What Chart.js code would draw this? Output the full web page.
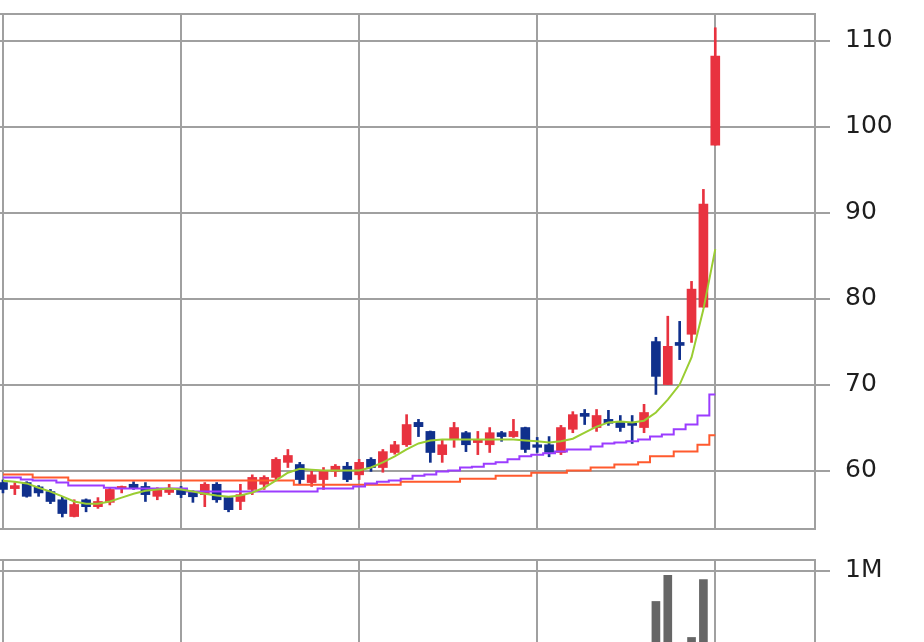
<!DOCTYPE html>
<html>
<head>
<meta charset="utf-8">
<script src="https://cdn.jsdelivr.net/npm/chart.js@4/dist/chart.umd.min.js"></script>
<style>
  html, body { margin: 0; padding: 0; background: #fff; overflow: hidden; }
  #wrap { position: relative; width: 924px; height: 642px; overflow: hidden; }
  #priceChart { position: absolute; left: 0; top: 0; }
  #volumeChart { position: absolute; left: 0; top: 545px; }
</style>
</head>
<body>
<div id="wrap">
  <canvas id="priceChart" width="924" height="531"></canvas>
  <canvas id="volumeChart" width="924" height="150"></canvas>
</div>
<script>
// daily candles, oldest first
const opens = [
  58.6, 57.9, 58.6, 58.1, 57.55, 56.6, 54.65, 56.6, 55.8, 56.3,
  57.9, 58.4, 58.15, 57.0, 57.45, 57.8, 57.55, 57.2, 58.4, 56.85,
  56.4, 57.8, 58.4, 59.2, 60.95, 60.7, 58.6, 58.95, 59.9, 60.5,
  59.5, 61.3, 60.35, 62.1, 63.0, 65.6, 64.55, 61.85, 63.6, 64.4,
  63.25, 63.0, 64.4, 63.95, 65.0, 63.0, 63.0, 62.1, 64.8, 66.65,
  65.0, 65.95, 65.6, 65.5, 65.0, 75.0, 70.0, 74.9, 75.85, 79.0, 97.85
];
const highs = [
  58.9, 58.6, 58.7, 58.25, 57.8, 57.0, 56.6, 56.7, 56.85, 58.0,
  58.2, 58.7, 58.6, 58.0, 58.4, 58.15, 57.65, 58.6, 58.6, 57.0,
  58.4, 59.5, 59.4, 61.5, 62.45, 60.95, 59.9, 60.35, 60.7, 60.95,
  61.3, 61.5, 62.45, 63.4, 66.5, 65.95, 64.6, 63.6, 65.6, 64.55,
  64.55, 65.0, 64.55, 65.95, 65.05, 63.85, 63.95, 65.25, 66.85, 67.1,
  67.1, 67.0, 66.4, 66.4, 67.7, 75.5, 77.95, 77.35, 82.0, 92.7, 111.5
];
const lows = [
  57.4, 57.2, 56.9, 57.0, 56.15, 54.6, 54.6, 55.2, 55.6, 56.0,
  57.4, 57.8, 56.4, 56.6, 57.2, 56.85, 56.3, 55.8, 56.3, 55.2,
  55.45, 57.2, 57.8, 58.95, 60.35, 58.4, 58.15, 57.8, 59.3, 58.7,
  58.95, 59.9, 59.8, 61.9, 62.8, 63.95, 60.95, 60.95, 62.7, 62.2,
  61.85, 62.1, 63.4, 63.85, 62.1, 62.1, 61.6, 61.85, 64.4, 65.35,
  64.55, 65.25, 64.55, 63.15, 64.4, 68.85, 70.0, 72.9, 74.9, 79.0, 97.85
];
const closes = [
  57.8, 58.25, 57.0, 57.4, 56.4, 55.0, 56.05, 55.8, 56.4, 57.8,
  58.15, 58.0, 57.2, 57.8, 57.8, 57.2, 56.95, 58.4, 56.6, 55.45,
  57.2, 59.2, 59.2, 61.3, 61.75, 58.95, 59.5, 59.9, 60.5, 58.95,
  60.95, 60.35, 62.2, 63.0, 65.35, 65.1, 62.1, 63.0, 65.0, 63.0,
  63.6, 64.4, 63.95, 64.55, 62.45, 62.7, 62.1, 65.0, 66.5, 66.3,
  66.4, 65.5, 65.0, 65.25, 66.75, 70.95, 74.45, 74.55, 81.1, 91.0, 108.2
];

// moving averages
const maShort = [
  58.8, 58.7, 58.5, 58.0, 57.55, 57.0, 56.4, 56.15, 56.15, 56.4,
  56.85, 57.3, 57.65, 57.8, 57.9, 57.8, 57.55, 57.3, 57.1, 56.95,
  57.1, 57.45, 58.0, 58.85, 59.75, 60.2, 60.1, 60.0, 60.0, 60.0,
  60.0, 60.35, 60.95, 61.65, 62.45, 63.15, 63.5, 63.6, 63.6, 63.6,
  63.6, 63.6, 63.6, 63.6, 63.5, 63.4, 63.25, 63.4, 63.7, 64.4,
  65.1, 65.6, 65.7, 65.6, 65.8, 66.75, 68.25, 70.0, 73.15, 78.75, 85.75
];
const maMid = [
  59.2, 59.2, 58.95, 58.85, 58.85, 58.6, 58.25, 58.25, 58.25, 58.0,
  57.9, 57.9, 57.9, 57.9, 57.9, 57.9, 57.55, 57.55, 57.55, 57.55,
  57.55, 57.55, 57.55, 57.55, 57.55, 57.55, 57.55, 57.9, 57.9, 57.9,
  58.15, 58.5, 58.7, 58.85, 59.05, 59.4, 59.55, 59.9, 60.0, 60.35,
  60.45, 60.8, 60.95, 61.3, 61.65, 61.85, 62.0, 62.2, 62.45, 62.45,
  62.8, 63.15, 63.25, 63.4, 63.6, 63.95, 64.2, 64.8, 65.35, 66.4, 68.85
];
const maLong = [
  59.55, 59.55, 59.55, 59.2, 59.2, 59.2, 58.85, 58.85, 58.85, 58.85,
  58.85, 58.85, 58.85, 58.85, 58.85, 58.85, 58.85, 58.85, 58.85, 58.85,
  58.85, 58.85, 58.85, 58.85, 58.85, 58.35, 58.35, 58.35, 58.35, 58.35,
  58.35, 58.35, 58.35, 58.35, 58.7, 58.7, 58.7, 58.7, 58.7, 59.05,
  59.05, 59.05, 59.4, 59.4, 59.4, 59.75, 59.75, 59.75, 60.0, 60.0,
  60.35, 60.35, 60.7, 60.7, 60.95, 61.65, 61.65, 62.2, 62.2, 63.0, 64.1
];

// volume in millions
const volumes = [
  0.18, 0.12, 0.2, 0.15, 0.22, 0.25, 0.2, 0.14, 0.12, 0.18,
  0.1, 0.12, 0.16, 0.14, 0.1, 0.12, 0.11, 0.2, 0.16, 0.18,
  0.15, 0.22, 0.14, 0.28, 0.3, 0.2, 0.12, 0.15, 0.1, 0.14,
  0.13, 0.12, 0.2, 0.18, 0.3, 0.22, 0.25, 0.18, 0.2, 0.15,
  0.1, 0.14, 0.09, 0.12, 0.16, 0.1, 0.12, 0.2, 0.22, 0.12,
  0.15, 0.1, 0.12, 0.14, 0.2, 0.72, 0.96, 0.3, 0.39, 0.92, 0.3
];

const priceTicks = [60, 70, 80, 90, 100, 110];
const volumeTicks = [1];
const dayGrid = [0, 15, 30, 45, 60];

const upColor = '#e8323f';
const downColor = '#10308c';
const gridColor = '#a0a0a0';
const tickFont = { family: 'DejaVu Sans', size: 25 };

const framePlugin = {
  id: 'frame',
  beforeDatasetsDraw(chart) {
    const { ctx, chartArea: a } = chart;
    ctx.save();
    ctx.strokeStyle = gridColor;
    ctx.lineWidth = 2;
    ctx.beginPath();
    ctx.moveTo(a.left, a.top);
    ctx.lineTo(a.right, a.top);
    ctx.lineTo(a.right, a.bottom);
    ctx.lineTo(a.left, a.bottom);
    ctx.stroke();
    ctx.restore();
  }
};

const candleColor = ctx => {
  const i = ctx.dataIndex;
  return closes[i] >= opens[i] ? upColor : downColor;
};

function xAxis() {
  return {
    type: 'linear',
    min: -0.25,
    max: 68.4,
    offset: false,
    afterBuildTicks: axis => { axis.ticks = dayGrid.map(v => ({ value: v })); },
    afterFit: axis => {
      axis.height = 0;
      axis.paddingLeft = 0;
      axis.paddingRight = 0;
    },
    ticks: { display: false },
    grid: { color: gridColor, lineWidth: 2, drawTicks: false, offset: false },
    border: { display: false }
  };
}

function yAxis(min, max, values, fmt) {
  return {
    position: 'right',
    min: min,
    max: max,
    afterBuildTicks: axis => { axis.ticks = values.map(v => ({ value: v })); },
    afterFit: axis => {
      axis.width = 109;
      axis.paddingTop = 0;
      axis.paddingBottom = 0;
    },
    ticks: { color: '#1e1e1e', font: tickFont, padding: 15, callback: fmt },
    grid: { color: gridColor, lineWidth: 2, tickLength: 15 },
    border: { display: false }
  };
}

const line = (data, color, stepped) => ({
  type: 'line',
  data: data.map((v, i) => ({ x: i, y: v })),
  borderColor: color,
  borderWidth: 2,
  pointRadius: 0,
  stepped: stepped,
  tension: 0
});

new Chart(document.getElementById('priceChart'), {
  type: 'bar',
  data: {
    datasets: [
      line(maShort, '#9acd32', false),
      line(maMid, '#9b3cff', 'middle'),
      line(maLong, '#ff5a2e', 'middle'),
      {
        data: opens.map((o, i) => ({ x: i, y: [o, closes[i]] })),
        backgroundColor: candleColor,
        barThickness: 9,
        minBarLength: 2,
        grouped: false
      },
      {
        data: lows.map((l, i) => ({ x: i, y: [l, highs[i]] })),
        backgroundColor: candleColor,
        barThickness: 2,
        grouped: false
      }
    ]
  },
  options: {
    responsive: false,
    animation: false,
    devicePixelRatio: 1,
    layout: { padding: { top: 14, bottom: 2, left: 0, right: 0 } },
    plugins: { legend: { display: false }, tooltip: { enabled: false } },
    scales: {
      x: xAxis(),
      y: yAxis(53.2, 113.1, priceTicks, v => v)
    }
  },
  plugins: [framePlugin]
});

new Chart(document.getElementById('volumeChart'), {
  type: 'bar',
  data: {
    datasets: [{
      data: volumes.map((v, i) => ({ x: i, y: v })),
      backgroundColor: '#666666',
      barThickness: 8
    }]
  },
  options: {
    responsive: false,
    animation: false,
    devicePixelRatio: 1,
    layout: { padding: { top: 15, bottom: 15, left: 0, right: 0 } },
    plugins: { legend: { display: false }, tooltip: { enabled: false } },
    scales: {
      x: xAxis(),
      y: yAxis(0, 1.1, volumeTicks, v => v + 'M')
    }
  },
  plugins: [framePlugin]
});
</script>
</body>
</html>
